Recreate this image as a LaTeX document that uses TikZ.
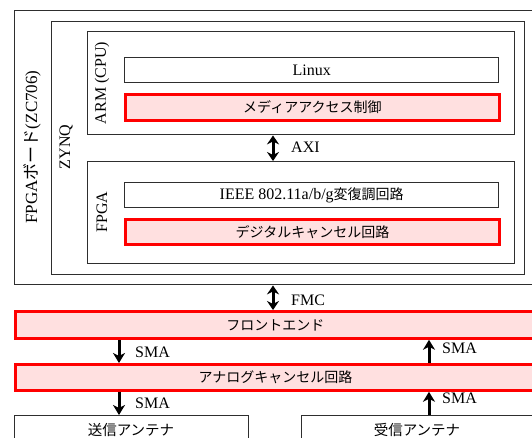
\documentclass[tikz,border=0pt]{standalone}
\usepackage{fontspec}
\setmainfont{Liberation Serif}
\newfontfamily\jp{Noto Sans CJK JP}
\usetikzlibrary{arrows.meta}
\definecolor{boxline}{HTML}{2E2E2E}
\definecolor{pinkfill}{HTML}{FFE0E0}
\tikzset{
  plainbox/.style={draw=boxline, line width=1.4pt, rectangle, inner sep=0pt, anchor=north west},
  redbox/.style={draw=red, fill=pinkfill, line width=2.8pt, rectangle, inner sep=0pt, anchor=north west},
  latin/.style={font=\fontsize{16}{18}\selectfont},
  jtext/.style={font=\fontsize{14}{16}\selectfont\jp},
  bigarrow/.style={line width=3pt, -{Stealth[length=10pt,width=12pt,inset=3pt]}},
  dblarrow/.style={line width=3pt, {Stealth[length=9pt,width=12pt,inset=3pt]}-{Stealth[length=9pt,width=12pt,inset=3pt]}},
  lbl/.style={font=\fontsize{16}{18}\selectfont, anchor=west, inner sep=0pt},
  sidelbl/.style={font=\fontsize{16}{18}\selectfont, rotate=90, inner sep=0pt}
}
\begin{document}
\begin{tikzpicture}[x=1pt,y=-1pt]
\useasboundingbox (0,0) rectangle (532,437);
\clip (0,0) rectangle (532,437);
\fill[white] (0,0) rectangle (532,437);
% boxes
\node[plainbox, minimum width=526, minimum height=274] (board) at (14,10) {};
\node[plainbox, minimum width=473, minimum height=253] (zynq) at (51,21) {};
\node[plainbox, minimum width=427, minimum height=103] (arm) at (87,31) {};
\node[plainbox, minimum width=374, minimum height=25, latin] (linux) at (124,57) {Linux};
\node[redbox, minimum width=374, minimum height=26, jtext] (mac) at (124,93) {メディアアクセス制御};
\node[plainbox, minimum width=427, minimum height=102] (fpga) at (87,161) {};
\node[plainbox, minimum width=374, minimum height=25, latin] (ieee) at (124,182) {IEEE 802.11a/b/g{\jp\fontsize{14}{16}\selectfont 変復調回路}};
\node[redbox, minimum width=374, minimum height=25, jtext] (dig) at (124,218) {デジタルキャンセル回路};
% side labels
\node[sidelbl, font=\fontsize{17}{19}\selectfont] (boardlbl) at (32,147) {FPGA{\jp ボード}(ZC706)};
\node[sidelbl] (zynqlbl) at (66,147) {ZYNQ};
\node[sidelbl] (armlbl) at (102,83) {ARM (CPU)};
\node[sidelbl] (fpgalbl) at (102,212) {FPGA};
% lower boxes
\node[redbox, minimum width=520, minimum height=27, jtext] (front) at (14,310) {フロントエンド};
\node[redbox, minimum width=520, minimum height=26, jtext] (analog) at (14,363) {アナログキャンセル回路};
\node[plainbox, minimum width=234, minimum height=36] (tx) at (14,415) {};
\node[plainbox, minimum width=233, minimum height=36] (rx) at (301,415) {};
\node[jtext, font=\fontsize{14.5}{16}\selectfont\jp] (txlbl) at (131,430) {送信アンテナ};
\node[jtext, font=\fontsize{14.5}{16}\selectfont\jp] (rxlbl) at (417,430) {受信アンテナ};
% arrow x positions
\coordinate (mx) at (273,0);
\coordinate (lx) at (119,0);
\coordinate (rxx) at (429,0);
% arrows
\draw[dblarrow] (arm.south -| mx) -- (fpga.north -| mx);
\node[lbl] (axi) at (291,147) {AXI};
\draw[dblarrow] (board.south -| mx) -- (front.north -| mx);
\node[lbl] (fmc) at (291,300) {FMC};
\draw[bigarrow] (front.south -| lx) -- (analog.north -| lx);
\node[lbl] (sma1) at (135,352) {SMA};
\draw[bigarrow] (analog.south -| lx) -- (tx.north -| lx);
\node[lbl] (sma2) at (135,403) {SMA};
\draw[bigarrow] (analog.north -| rxx) -- (front.south -| rxx);
\node[lbl] (sma3) at (442,348) {SMA};
\draw[bigarrow] (rx.north -| rxx) -- (analog.south -| rxx);
\node[lbl] (sma4) at (442,398) {SMA};
\end{tikzpicture}
\end{document}
